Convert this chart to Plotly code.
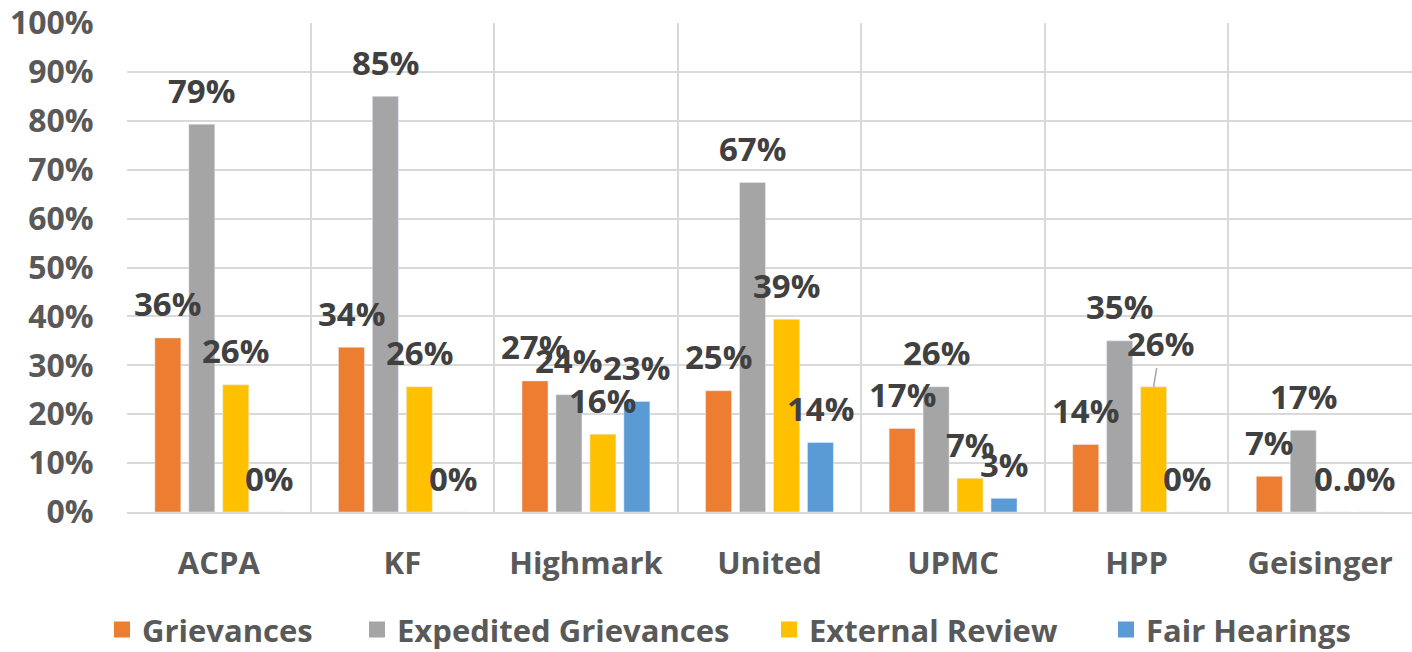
import plotly.graph_objects as go

categories = ["ACPA", "KF", "Highmark", "United", "UPMC", "HPP", "Geisinger"]
series_names = ["Grievances", "Expedited Grievances", "External Review", "Fair Hearings"]
grievances = [35.6, 33.7, 26.8, 24.8, 17.1, 13.8, 7.3]
expedited = [79.3, 85.0, 24.0, 67.4, 25.6, 35.0, 16.7]
external = [26.0, 25.6, 15.9, 39.4, 6.9, 25.6, 0.0]
fair = [0.0, 0.0, 22.6, 14.2, 2.8, 0.0, 0.0]
y_ticks = [0, 10, 20, 30, 40, 50, 60, 70, 80, 90, 100]

colors = ["#ED7D31", "#A5A5A5", "#FFC000", "#5B9BD5"]
values = [grievances, expedited, external, fair]

# label text overrides as seen in the reference (truncated label)
label_override = {("External Review", "Geisinger"): "0…"}
# label moved with a leader line in the reference
leader = {("External Review", "HPP"): (7, -43)}

FONT = "Open Sans"
W, H = 1412, 652
ML, MR, MT, MB = 127, 0, 20, 140
BARGAP = 0.26
plot_w = W - ML - MR
slot = plot_w / len(categories) * (1 - BARGAP) / len(series_names)

# left pixel of each legend entry (layout only)
legend_left_px = [102, 357, 769, 1106]

fig = go.Figure()
legend_ids = ["legend", "legend2", "legend3", "legend4"]
for name, vals, col, lid in zip(series_names, values, colors, legend_ids):
    fig.add_trace(go.Bar(x=categories, y=vals, name=name, marker_color=col,
                         showlegend=False, hoverinfo="skip"))
    # legend proxy with bigger square markers
    fig.add_trace(go.Scatter(x=[None], y=[None], mode="markers", name=name,
                             legend=lid,
                             marker=dict(symbol="square", size=18, color=col)))

annotations = []
for si, (name, vals) in enumerate(zip(series_names, values)):
    xs = (si - 1.5) * slot
    for cat, v in zip(categories, vals):
        txt = label_override.get((name, cat), f"{round(v)}%")
        a = dict(x=cat, y=v, xref="x", yref="y", text=txt,
                 font=dict(family=FONT, size=33, color="#404040", weight="bold"),
                 xanchor="center", yanchor="middle", xshift=xs)
        if (name, cat) in leader:
            ax, ay = leader[(name, cat)]
            a.update(showarrow=True, ax=ax, ay=ay, arrowhead=0, arrowwidth=1.5,
                     arrowcolor="#A6A6A6", standoff=0)
        else:
            a.update(showarrow=False, yshift=34)
        annotations.append(a)

legend_style = dict(orientation="h", xref="container", yref="container",
                    xanchor="left", y=0.034, yanchor="middle",
                    font=dict(family=FONT, size=31, color="#595959", weight="bold"),
                    itemwidth=30, bgcolor="rgba(0,0,0,0)")
legends = {lid: dict(legend_style, x=px / W) for lid, px in zip(legend_ids, legend_left_px)}

fig.update_layout(
    width=W, height=H,
    margin=dict(l=ML, r=MR, t=MT, b=MB),
    paper_bgcolor="white", plot_bgcolor="white",
    barmode="group", bargap=BARGAP, bargroupgap=0.235,
    annotations=annotations,
    **legends,
    xaxis=dict(type="category", tickson="boundaries", showgrid=True,
               gridcolor="#D9D9D9", gridwidth=2, showline=True,
               linecolor="#D9D9D9", linewidth=2, ticks="",
               ticklabelstandoff=23,
               tickfont=dict(family=FONT, size=31, color="#595959", weight="bold"),
               range=[-0.5, len(categories) - 0.5]),
    yaxis=dict(range=[0, 100], tickvals=y_ticks,
               ticktext=[f"{t}%" for t in y_ticks], showgrid=True,
               gridcolor="#D9D9D9", gridwidth=2, zeroline=False, showline=False,
               ticks="outside", ticklen=26, tickcolor="rgba(0,0,0,0)",
               ticklabeloverflow="allow",
               tickfont=dict(family=FONT, size=32, color="#595959", weight="bold")),
)

fig.write_html("out.html", config={"displayModeBar": False},
               post_script="document.body.style.margin='0';")
